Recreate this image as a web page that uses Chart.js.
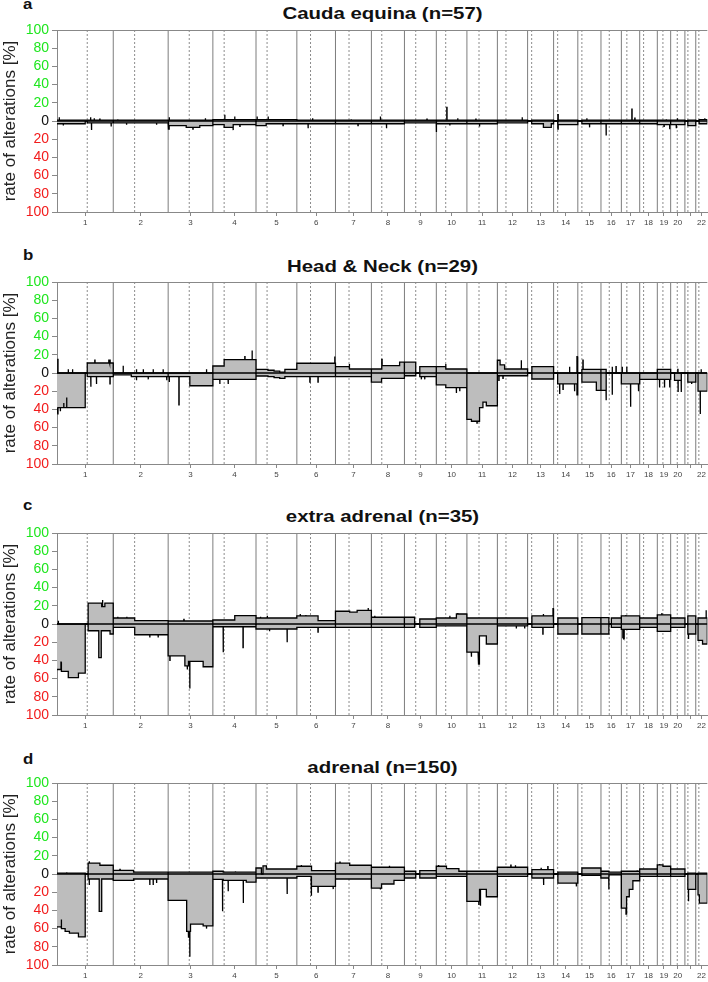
<!DOCTYPE html>
<html>
<head>
<meta charset="utf-8">
<script src="https://cdn.jsdelivr.net/npm/chart.js@4.4.0/dist/chart.umd.min.js"></script>
<style>
body { margin: 0; background: #fff; width: 708px; height: 982px; overflow: hidden; position: relative; font-family: "Liberation Sans", Arial, sans-serif; }
.panel { position: absolute; left: 0; width: 708px; height: 235px; }
.letter { position: absolute; left: 23px; font-weight: bold; font-size: 14px; line-height: 14px; color: #111; transform: scaleX(1.2); transform-origin: left; }
.title { position: absolute; left: 57px; width: 651px; text-align: center; font-weight: bold; font-size: 17px; line-height: 17px; color: #111; transform: scaleX(1.2); }
</style>
</head>
<body>
<div class="letter" style="top:-3px">a</div>
<div class="title" style="top:5px">Cauda equina (n=57)</div>
<canvas id="chartA" class="panel" width="708" height="235" style="top:0px"></canvas>

<div class="letter" style="top:248px">b</div>
<div class="title" style="top:258px">Head &amp; Neck (n=29)</div>
<canvas id="chartB" class="panel" width="708" height="235" style="top:252px"></canvas>

<div class="letter" style="top:498px">c</div>
<div class="title" style="top:508px">extra adrenal (n=35)</div>
<canvas id="chartC" class="panel" width="708" height="235" style="top:503px"></canvas>

<div class="letter" style="top:752px">d</div>
<div class="title" style="top:759px">adrenal (n=150)</div>
<canvas id="chartD" class="panel" width="708" height="235" style="top:753px"></canvas>

<script>
// chromosomes (hg19 lengths in Mb) and centromere positions
var chromLabels = ['1', '2', '3', '4', '5', '6', '7', '8', '9', '10', '11', '12',
    '13', '14', '15', '16', '17', '18', '19', '20', '', '22'];
var chromLen = [249.25, 243.2, 198.02, 191.15, 180.92, 171.12, 159.14, 146.36, 141.21, 135.53, 135.01,
    133.85, 115.17, 107.35, 102.53, 90.35, 81.2, 78.08, 59.13, 63.03, 48.13, 51.3];
var centromere = [134, 94.7, 93.4, 50, 49, 60.6, 60, 46, 50, 41.6, 53.6, 38, 18, 18, 18, 36.7, 24.3, 17.3, 24.8, 29.2, 13.3, 13.7];

// segments: [chromosome, start Mb, end Mb, % of cases]; spikes: [chromosome, position Mb, %]
// a - Cauda equina
var gainsA = [[1, 0, 249, 1], [2, 0, 243, 1], [3, 0, 198, 1], [4, 0, 191, 1.5], [5, 0, 181, 1.5], [6, 0, 171, 1],
    [7, 0, 159, 1], [8, 0, 146, 1], [9, 0, 141, 1], [10, 0, 135, 1], [11, 0, 135, 1], [12, 0, 134, 1],
    [13, 18, 115, 1], [14, 18, 107, 1], [15, 18, 102, 1], [16, 0, 90, 1], [17, 0, 81, 1], [18, 0, 78, 1],
    [19, 0, 59, 1], [20, 0, 63, 1], [21, 13, 48, 1], [22, 15, 51, 1.5]];
var gainSpikesA = [[1, 10, 4], [1, 149, 4], [1, 165, 3], [1, 190, 2], [2, 20, 2], [3, 5, 4], [3, 165, 3], [4, 53, 7],
    [4, 97, 5], [5, 5, 5], [5, 54, 5], [6, 70, 3], [7, 70, 2], [8, 40, 5], [9, 100, 2], [10, 47, 15], [10, 95, 3],
    [11, 40, 2], [12, 110, 4], [14, 20, 7], [15, 40, 3], [17, 47, 13], [17, 60, 3], [19, 40, 2], [20, 30, 3], [22, 40, 3]];
var lossesA = [[1, 0, 125, 3], [1, 134, 249, 2], [2, 0, 243, 2], [3, 0, 80, 5], [3, 80, 140, 7], [3, 140, 198, 5],
    [4, 0, 50, 4], [4, 50, 90, 7], [4, 90, 191, 4], [5, 0, 45, 5], [5, 45, 181, 3], [6, 0, 171, 3], [7, 0, 159, 3],
    [8, 0, 146, 3], [9, 0, 141, 2], [10, 0, 135, 3], [11, 0, 135, 3], [12, 0, 134, 2], [13, 18, 70, 3], [13, 70, 105, 7],
    [13, 105, 115, 3], [14, 18, 107, 4], [15, 18, 102, 3], [16, 0, 90, 3], [17, 0, 81, 3], [18, 0, 78, 3],
    [19, 0, 59, 4], [20, 0, 63, 4], [21, 13, 48, 5], [22, 15, 51, 3]];
var lossSpikesA = [[1, 28, 5], [1, 153, 10], [1, 240, 6], [2, 59, 4], [2, 192, 4], [3, 4, 9], [3, 110, 9], [4, 90, 10],
    [4, 120, 6], [5, 120, 5], [6, 50, 8], [7, 100, 5], [8, 67, 8], [10, 1, 12], [10, 60, 5], [11, 56, 6], [14, 20, 9],
    [15, 52, 7], [16, 23, 16], [19, 55, 9], [19, 30, 6], [20, 25, 8]];

// b - Head & Neck
var gainsB = [[1, 134, 249, 11], [4, 0, 50, 7.7], [4, 50, 191, 14.7], [5, 0, 53, 4], [5, 53, 80, 3], [5, 80, 105, 2],
    [5, 105, 128, 1], [5, 128, 181, 4], [6, 0, 171, 10.7], [7, 0, 63, 7], [7, 63, 159, 4.4], [8, 0, 45, 4.4],
    [8, 45, 125, 8], [8, 125, 146, 12], [9, 0, 50, 12], [9, 68, 141, 7], [10, 0, 42, 7], [10, 42, 135, 4.4],
    [12, 0, 12, 14], [12, 12, 32, 9], [12, 32, 134, 4.4], [13, 19, 115, 7], [15, 18, 102, 4], [16, 0, 23, 4], [19, 0, 59, 4]];
var gainSpikesB = [[1, 4, 15], [1, 50, 4], [1, 69, 4], [1, 168, 14], [1, 230, 14], [1, 235, 14], [2, 44, 8], [2, 103, 4],
    [2, 133, 4], [2, 177, 4], [2, 221, 4], [3, 170, 4], [4, 142, 18], [4, 174, 24.7], [6, 168, 18], [7, 61, 10],
    [8, 47, 15], [10, 42, 10], [12, 106, 14], [14, 71, 7], [14, 104, 18], [15, 23, 14], [16, 50, 7], [16, 67, 7],
    [17, 4, 7], [17, 24, 7], [20, 32, 4], [22, 24, 4]];
var lossesB = [[1, 0, 125, 38], [1, 134, 249, 4], [2, 0, 80, 2], [2, 80, 243, 4], [3, 0, 96, 4], [3, 96, 198, 14],
    [4, 0, 191, 7], [5, 0, 53, 3.3], [5, 53, 80, 4], [5, 80, 105, 5], [5, 105, 128, 6], [5, 128, 181, 4], [6, 0, 171, 4],
    [7, 0, 159, 4], [8, 0, 45, 10], [8, 45, 146, 6], [9, 0, 50, 3], [9, 68, 141, 4], [10, 0, 42, 13], [10, 42, 135, 16],
    [11, 0, 20, 51], [11, 20, 56, 53], [11, 56, 71, 38], [11, 71, 86, 32], [11, 86, 135, 36], [12, 0, 134, 3],
    [13, 19, 115, 6.6], [14, 18, 107, 12], [15, 18, 82, 10], [15, 82, 102, 19], [16, 0, 23, 19], [17, 0, 81, 12],
    [18, 0, 78, 7], [19, 0, 59, 7], [20, 17, 47, 8], [21, 13, 48, 10], [22, 10, 51, 20]];
var lossSpikesB = [[1, 4, 45], [1, 15, 42], [1, 30, 33], [1, 43, 27], [1, 150, 15], [1, 175, 12], [1, 235, 12], [2, 103, 8],
    [2, 155, 7], [2, 237, 8], [3, 5, 10], [3, 48, 35], [4, 31, 12], [4, 68, 12], [6, 58, 10], [6, 94, 10], [9, 75, 7],
    [9, 90, 7], [10, 89, 22], [10, 104, 20], [11, 45, 55], [12, 7, 8], [12, 25, 6], [14, 27, 23], [14, 42, 18],
    [14, 93, 20], [14, 104, 24], [16, 23, 30], [16, 50, 24], [17, 41, 37], [17, 76, 20], [19, 10, 16], [19, 32, 16],
    [19, 55, 16], [20, 33, 21], [20, 47, 21], [21, 30, 12], [22, 20, 45]];

// c - extra adrenal
var gainsC = [[1, 138, 198, 23], [1, 198, 212, 19], [1, 212, 249, 23], [2, 0, 95, 6.6], [2, 95, 243, 3.7],
    [3, 0, 198, 3.3], [4, 0, 97, 4.4], [4, 97, 191, 9.2], [5, 0, 181, 6.6], [6, 0, 94, 9], [6, 94, 171, 3.7],
    [7, 0, 63, 14], [7, 63, 96, 13], [7, 96, 159, 15], [8, 0, 146, 7.4], [9, 0, 45, 7.4], [9, 68, 141, 5.5],
    [10, 0, 89, 6.6], [10, 89, 135, 11], [11, 0, 135, 6.6], [12, 0, 134, 6.6], [13, 19, 115, 9], [14, 19, 107, 6.6],
    [15, 18, 102, 7], [16, 0, 35, 7], [16, 46, 90, 6.6], [17, 0, 81, 9], [18, 0, 78, 6.6], [19, 0, 59, 10],
    [20, 0, 63, 6.6], [21, 13, 48, 9], [22, 10, 51, 6.6]];
var gainSpikesC = [[1, 6, 3.7], [1, 202, 26.5], [2, 20, 8], [2, 60, 8], [3, 70, 5], [4, 100, 10], [5, 20, 8], [5, 50, 9],
    [6, 15, 11], [6, 40, 10], [7, 145, 17.7], [8, 15, 9], [10, 60, 9], [10, 95, 12], [13, 113, 17], [13, 70, 11],
    [17, 20, 10], [19, 20, 12], [22, 46, 15]];
var lossesC = [[1, 0, 20, 50], [1, 20, 50, 52], [1, 50, 95, 59], [1, 95, 125, 54], [1, 138, 235, 7.4], [1, 185, 196, 37],
    [1, 235, 249, 11], [2, 0, 95, 3.7], [2, 95, 243, 11.8], [3, 0, 74, 35], [3, 74, 90, 46], [3, 90, 155, 41],
    [3, 155, 198, 47], [4, 0, 191, 3], [5, 0, 181, 5.5], [6, 0, 171, 3.7], [7, 0, 159, 3.7], [8, 0, 146, 3.7],
    [9, 0, 45, 3.7], [9, 68, 141, 3.7], [10, 0, 135, 2], [11, 0, 56, 31], [11, 56, 86, 13], [11, 86, 135, 22],
    [12, 0, 134, 2], [13, 19, 115, 3.7], [14, 19, 107, 11], [15, 18, 102, 11], [16, 0, 35, 11], [16, 46, 90, 3.7],
    [17, 0, 81, 6], [18, 0, 78, 3.7], [19, 0, 59, 8], [20, 0, 63, 3.7], [21, 13, 48, 11], [22, 10, 30, 18], [22, 30, 51, 22]];
var lossSpikesC = [[1, 18, 42], [2, 162, 14.7], [2, 199, 14.7], [3, 8, 40], [3, 96, 71], [3, 85, 50], [4, 46, 31],
    [4, 134, 26], [5, 138, 20], [5, 60, 8], [6, 94, 9], [11, 20, 36], [11, 54, 44], [11, 50, 40], [12, 84, 5],
    [12, 121, 5], [13, 68, 11], [17, 7, 15], [17, 12, 16], [21, 16, 16.5]];

// d - adrenal
var gainsD = [[1, 0, 125, 1], [1, 138, 190, 12], [1, 190, 249, 9.6], [2, 0, 90, 4], [2, 90, 243, 2], [3, 0, 198, 2],
    [4, 0, 46, 3], [4, 46, 191, 2], [5, 0, 24, 6.6], [5, 31, 46, 9], [5, 46, 181, 5.5], [6, 0, 65, 8.5],
    [6, 65, 171, 3.7], [7, 0, 63, 12], [7, 63, 159, 9.6], [8, 0, 146, 7.4], [9, 0, 50, 3], [9, 68, 141, 3.7],
    [10, 0, 45, 8.5], [10, 45, 100, 6], [10, 100, 135, 3], [11, 0, 135, 3], [12, 0, 134, 7.4], [13, 19, 115, 4.8],
    [14, 19, 107, 2], [15, 18, 102, 6.6], [16, 0, 35, 3], [16, 35, 90, 2], [17, 0, 81, 3], [18, 0, 78, 5.5],
    [19, 0, 25, 10], [19, 25, 59, 8.5], [20, 0, 63, 5.5], [21, 13, 48, 1], [22, 10, 51, 1]];
var gainSpikesD = [[1, 43, 2], [1, 143, 14], [2, 30, 5], [4, 100, 3], [6, 20, 10], [7, 20, 13], [8, 80, 9], [10, 10, 10],
    [12, 60, 9.6], [12, 80, 9.6], [13, 60, 7], [13, 90, 8], [17, 70, 4], [19, 10, 11]];
var lossesD = [[1, 0, 18, 58], [1, 18, 36, 60], [1, 36, 55, 63], [1, 55, 95, 65], [1, 95, 125, 69], [1, 138, 249, 5.5],
    [1, 187, 198, 41], [2, 0, 90, 7], [2, 90, 243, 5.5], [3, 0, 82, 29], [3, 82, 99, 63], [3, 99, 155, 55],
    [3, 155, 198, 57], [4, 0, 46, 6], [4, 46, 148, 7], [4, 148, 191, 9], [5, 0, 181, 4.4], [6, 0, 63, 2.6],
    [6, 63, 171, 13.6], [7, 0, 159, 5.5], [8, 0, 45, 15.5], [8, 45, 100, 11], [8, 100, 146, 7], [9, 0, 50, 4.4],
    [9, 68, 141, 4.4], [10, 0, 135, 2.6], [11, 0, 56, 30], [11, 56, 86, 17], [11, 86, 135, 25], [12, 0, 134, 2.6],
    [13, 19, 115, 4.4], [14, 19, 107, 10], [15, 18, 102, 1.5], [16, 0, 35, 4.4], [16, 35, 90, 1], [17, 0, 24, 37.5],
    [17, 24, 35, 25], [17, 35, 51, 17], [17, 51, 81, 7.4], [18, 0, 78, 2.6], [19, 0, 59, 2.6], [20, 0, 63, 2.6],
    [21, 13, 48, 17], [22, 10, 16, 23], [22, 16, 51, 32]];
var lossSpikesD = [[1, 20, 50], [1, 143, 12], [2, 162, 12], [2, 177, 12], [2, 192, 10], [3, 96, 91], [3, 90, 70],
    [3, 170, 60], [4, 43, 41], [4, 68, 19], [4, 135, 32], [5, 138, 22], [6, 65, 24], [6, 94, 20], [6, 161, 16.6],
    [8, 40, 17], [11, 53, 34], [11, 60, 35], [13, 71, 12], [14, 101, 13.6], [16, 35, 17], [17, 21, 44], [21, 16, 30]];

var GREEN = '#1ee61e';
var RED = '#f21c1c';

// cumulative chromosome offsets
var offsets = [];
var genomeLen = 0;
chromLen.forEach(function (len) { offsets.push(genomeLen); genomeLen += len; });
var midpoints = chromLen.map(function (len, i) { return offsets[i] + len / 2; });

// step profile from segments, later entries override earlier ones
function profile(segs, spikes, sign) {
    var all = segs.concat(spikes.map(function (s) { return [s[0], s[1] - 0.5, s[1] + 0.5, s[2]]; }));
    var pts = [];
    chromLen.forEach(function (len, i) {
        var own = all.filter(function (s) { return s[0] === i + 1; });
        var cuts = [0, len];
        own.forEach(function (s) { cuts.push(s[1], s[2]); });
        cuts = cuts.filter(function (v) { return v >= 0 && v <= len; })
            .sort(function (a, b) { return a - b; })
            .filter(function (v, k, arr) { return k === 0 || v !== arr[k - 1]; });
        for (var k = 0; k < cuts.length - 1; k++) {
            var mid = (cuts[k] + cuts[k + 1]) / 2;
            var v = 0;
            own.forEach(function (s) { if (s[1] <= mid && mid < s[2]) v = s[3]; });
            pts.push({ x: offsets[i] + cuts[k], y: sign * v }, { x: offsets[i] + cuts[k + 1], y: sign * v });
        }
    });
    return pts;
}

function verticals(xs) {
    var pts = [];
    xs.forEach(function (x) { pts.push({ x: x, y: -100 }, { x: x, y: 100 }, { x: x, y: null }); });
    return pts;
}

var boundaryPts = verticals(offsets.slice(1));
var centroPts = verticals(centromere.map(function (c, i) { return offsets[i] + c; }));

// top line of the plot box
var frame = {
    id: 'frame',
    afterDraw: function (chart) {
        var a = chart.chartArea, ctx = chart.ctx;
        ctx.save();
        ctx.strokeStyle = '#888';
        ctx.lineWidth = 1;
        ctx.beginPath();
        ctx.moveTo(a.left, a.top + 0.5);
        ctx.lineTo(a.right, a.top + 0.5);
        ctx.stroke();
        ctx.restore();
    }
};

function makeChart(id, gains, gainSpikes, losses, lossSpikes) {
    new Chart(document.getElementById(id), {
        type: 'line',
        data: {
            datasets: [
                { data: [{ x: 0, y: 0 }, { x: genomeLen, y: 0 }], borderColor: '#000', borderWidth: 1.6, fill: false, order: 0 },
                { data: profile(gains, gainSpikes, 1), borderColor: '#000', borderWidth: 1.3, backgroundColor: '#bdbdbd', fill: 'origin', order: 1 },
                { data: profile(losses, lossSpikes, -1), borderColor: '#000', borderWidth: 1.3, backgroundColor: '#bdbdbd', fill: 'origin', order: 2 },
                { data: boundaryPts, borderColor: '#7d7d7d', borderWidth: 1, fill: false, order: 3 },
                { data: centroPts, borderColor: '#8c8c8c', borderWidth: 1, borderDash: [2, 2], fill: false, order: 4 }
            ]
        },
        options: {
            responsive: false,
            animation: false,
            devicePixelRatio: 1,
            events: [],
            layout: { padding: { top: 30, left: 0, right: 0, bottom: 0 } },
            elements: { point: { radius: 0 }, line: { tension: 0 } },
            plugins: { legend: { display: false }, tooltip: { enabled: false } },
            scales: {
                x: {
                    type: 'linear',
                    min: 0,
                    max: genomeLen,
                    afterBuildTicks: function (s) { s.ticks = midpoints.map(function (v) { return { value: v }; }); },
                    afterFit: function (s) { s.height = 23; },
                    ticks: {
                        autoSkip: false,
                        maxRotation: 0,
                        padding: 2,
                        color: '#444',
                        font: { size: 8, family: '"Liberation Sans", Arial, sans-serif' },
                        callback: function (v, i) { return chromLabels[i]; }
                    },
                    grid: { drawOnChartArea: false, tickLength: 4, color: '#888' },
                    border: { color: '#888' }
                },
                y: {
                    min: -100,
                    max: 100,
                    afterFit: function (s) { s.width = 57; },
                    ticks: {
                        stepSize: 20,
                        autoSkip: false,
                        padding: 3,
                        font: { size: 14, family: '"Liberation Sans", Arial, sans-serif' },
                        color: function (c) { return c.tick.value > 0 ? GREEN : (c.tick.value < 0 ? RED : '#111'); },
                        callback: function (v) { return Math.abs(v); }
                    },
                    grid: { drawOnChartArea: false, tickLength: 5, color: '#888' },
                    border: { color: '#888' },
                    title: {
                        display: true,
                        text: 'rate of alterations [%]',
                        color: '#222',
                        padding: 0,
                        font: { size: 17, family: '"Liberation Sans", Arial, sans-serif' }
                    }
                }
            }
        },
        plugins: [frame]
    });
}

makeChart('chartA', gainsA, gainSpikesA, lossesA, lossSpikesA);
makeChart('chartB', gainsB, gainSpikesB, lossesB, lossSpikesB);
makeChart('chartC', gainsC, gainSpikesC, lossesC, lossSpikesC);
makeChart('chartD', gainsD, gainSpikesD, lossesD, lossSpikesD);
</script>
</body>
</html>
